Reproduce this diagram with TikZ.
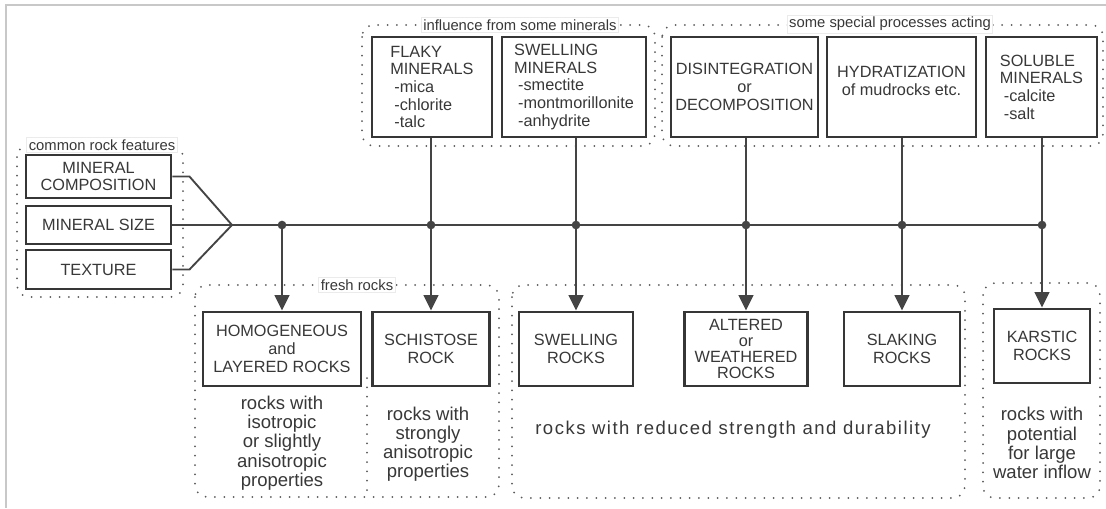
\documentclass[tikz,border=0pt]{standalone}
\usepackage{fontspec}
\setmainfont{Liberation Sans}
\newfontfamily\spacedfont[LetterSpace=8]{Liberation Sans}
\usetikzlibrary{arrows.meta}
\definecolor{txt}{HTML}{383838}
\definecolor{boxc}{HTML}{363636}
\definecolor{linec}{HTML}{444444}
\definecolor{dotc}{HTML}{5A5A5A}
\definecolor{framec}{HTML}{C8C8C8}
\begin{document}
\begin{tikzpicture}[x=0.75pt,y=-0.75pt,
  box/.style={draw=boxc,line width=2.2pt,inner sep=0pt,align=center,text=txt,font=\fontsize{12.2}{13.3}\selectfont},
  wh/.style 2 args={minimum width=#1*0.75pt,minimum height=#2*0.75pt},
  conn/.style={draw=linec,line width=1.4pt},
  arr/.style={conn,-{Triangle[width=11pt,length=11.5pt]}},
  grp/.style={draw=dotc,line width=1.5pt,line cap=round,dash pattern=on 0pt off 7pt,rounded corners=9pt},
  glabel/.style={fill=white,draw=black!8,line width=0.5pt,inner sep=1.5pt,text=txt,font=\fontsize{11.1}{12}\selectfont},
  desc/.style={align=center,text=txt,font=\fontsize{13.9}{14.4}\selectfont,inner sep=0pt},
  jdot/.style={circle,fill=linec,inner sep=0pt,minimum size=6.5pt}
]
\useasboundingbox (0,0) rectangle (1106,508);
\fill[white] (0,0) rectangle (1106,508);
% frame lines
\draw[framec,line width=1.5pt] (6,508) -- (6,5) -- (1106,5);

% dotted groups
\draw[grp] (17,145) rectangle (183,297);
\draw[grp] (362,25) rectangle (655,146);
\draw[grp] (662,25) rectangle (1103,146);
\draw[grp] (195,285) rectangle (499,497);
\draw[grp,rounded corners=0pt] (367,378) -- (367,497);
\draw[grp] (512,285) rectangle (965,498);
\draw[grp] (983,283) rectangle (1100,498);

% group labels
\node[glabel] (l1) at (102,145) {common rock features};
\node[glabel] (l2) at (520,25) {influence from some minerals};
\node[glabel] (l3) at (890,24) {some special processes acting};
\node[glabel] (l4) at (357,285) {fresh rocks};

% left boxes
\node[box,wh={145}{43}] (comp) at (98.5,176.5) {MINERAL\\COMPOSITION};
\node[box,wh={145}{38}] (size) at (98.5,225) {MINERAL SIZE};
\node[box,wh={145}{39}] (tex) at (98.5,269.5) {TEXTURE};

% top boxes
\node[box,wh={120}{100},align=left] (fm) at (432,87) {FLAKY\\MINERALS\\\hspace*{3pt}-mica\\\hspace*{3pt}-chlorite\\\hspace*{3pt}-talc};
\node[box,wh={144}{100},align=left] (sm) at (574,87) {SWELLING\\MINERALS\\\hspace*{3pt}-smectite\\\hspace*{3pt}-montmorillonite\\\hspace*{3pt}-anhydrite};
\node[box,wh={147}{100}] (dis) at (744.5,87) {DISINTEGRATION\\or\\DECOMPOSITION};
\node[box,wh={149}{100}] (hy) at (901.5,87) {};
\node[box,draw=none] (hyt) at (901.5,81) {HYDRATIZATION\\of mudrocks etc.};
\node[box,wh={111}{100},align=left] (sol) at (1041.5,87) {SOLUBLE\\MINERALS\\\hspace*{3pt}-calcite\\\hspace*{3pt}-salt};

% bottom boxes
\node[box,wh={158}{74}] (hom) at (282,349) {HOMOGENEOUS\\and\\LAYERED ROCKS};
\node[box,wh={117}{74}] (sch) at (431,349) {SCHISTOSE\\ROCK};
\node[box,wh={114}{74}] (swr) at (576,349) {SWELLING\\ROCKS};
\node[box,wh={123}{74},font=\fontsize{12.2}{12}\selectfont] (alt) at (746,349) {ALTERED\\or\\WEATHERED\\ROCKS};
\node[box,wh={116}{74}] (sla) at (902,349) {SLAKING\\ROCKS};
\node[box,wh={96}{74}] (kar) at (1042,346) {KARSTIC\\ROCKS};

% descriptions
\node[desc] (homt) at (282,443) {rocks with\\isotropic\\or slightly\\anisotropic\\properties};
\node[desc] (scht) at (428,444) {rocks with\\strongly\\anisotropic\\properties};
\node[desc,font=\spacedfont\fontsize{13.9}{14.4}\selectfont] (midt) at (733,430) {rocks with reduced strength and durability};
\node[desc] (kart) at (1042,443) {rocks with\\potential\\for large\\water inflow};

% junctions
\coordinate (apex) at (232,225);
\node[jdot] (j1) at (282,225) {};
\node[jdot] (j2) at (431,225) {};
\node[jdot] (j3) at (576,225) {};
\node[jdot] (j4) at (746,225) {};
\node[jdot] (j5) at (902,225) {};
\node[jdot] (j6) at (1042,225) {};

% connectors
\draw[conn] (comp.east) -- ++(17,0) -- (apex);
\draw[conn] (tex.east) -- ++(17,0) -- (apex);
\draw[conn] (size.east) -- (apex) -- (j6.center);
\draw[arr] (j1.center) -- (hom.north);
\draw[arr] (fm.south -| sch.north) -- (sch.north);
\draw[arr] (sm.south -| swr.north) -- (swr.north);
\draw[arr] (dis.south -| alt.north) -- (alt.north);
\draw[arr] (hy.south -| sla.north) -- (sla.north);
\draw[arr] (sol.south -| kar.north) -- (kar.north);
\end{tikzpicture}
\end{document}
